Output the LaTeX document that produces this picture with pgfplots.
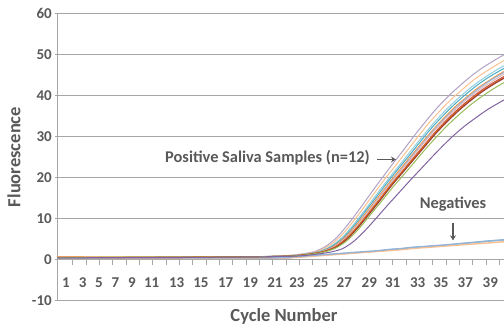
\documentclass[border=0pt]{standalone}
\usepackage{fontspec}
\setmainfont{Carlito}
\usepackage{pgfplots}
\pgfplotsset{compat=1.18}
\usetikzlibrary{arrows.meta}
\definecolor{txt}{HTML}{595959}
\definecolor{gridc}{HTML}{A6A6A6}
\definecolor{cLav}{HTML}{B3A2C7}
\definecolor{cPeach}{HTML}{FAC090}
\definecolor{cLBlue}{HTML}{93CDDD}
\definecolor{cBlue}{HTML}{4BACC6}
\definecolor{cOrange}{HTML}{F79646}
\definecolor{cSteel}{HTML}{95B3D7}
\definecolor{cSalmon}{HTML}{E6B9B8}
\definecolor{cRed}{HTML}{C0504D}
\definecolor{cDOrange}{HTML}{E46C0A}
\definecolor{cDRed}{HTML}{953735}
\definecolor{cGreen}{HTML}{9BBB59}
\definecolor{cPurple}{HTML}{8064A2}
\begin{document}
\begin{tikzpicture}
\useasboundingbox (-57.3pt,-26.3pt) rectangle (446.7pt,300.7pt);
\begin{axis}[
  at={(0pt,0pt)}, anchor=south west,
  scale only axis, width=446.7pt, height=287.4pt,
  xmin=0.22, xmax=40.25, ymin=-10, ymax=60,
  axis x line=middle, axis y line=left,
  hide obscured x ticks=false, hide obscured y ticks=false,
  axis line style={gridc, line width=0.8pt},
  x axis line style={-}, y axis line style={-},
  ytick={-10,0,10,20,30,40,50,60},
  yticklabels={-10,0,10,20,30,40,50,60},
  ymajorgrids, grid style={gridc, line width=0.8pt},
  xtick={1,2.496,3.957,5.418,6.914,8.679,10.919,13.097,15.310,17.514,19.728,21.699,23.849,25.937,28.177,30.274,32.514,34.602,36.779,39.020},
  xticklabels={1,3,5,7,9,11,13,15,17,19,21,23,25,27,29,31,33,35,37,39},
  minor xtick={1.594,2.789,...,39.9},
  tick align=outside,
  major tick length=2pt, minor tick length=5pt,
  major x tick style={draw=none},
  tick style={gridc, line width=0.8pt},
  ticklabel style={font=\fontsize{15}{15}\selectfont\bfseries, text=txt},
  xticklabel style={anchor=base, yshift=-26pt},
  xlabel={Cycle Number}, ylabel={Fluorescence},
  xlabel style={at={(axis description cs:0.5075,-0.0707)}, anchor=base, font=\fontsize{18.5}{18.5}\selectfont\bfseries, text=txt},
  ylabel style={at={(axis description cs:-0.0969,0.5)}, rotate=0, anchor=center, font=\fontsize{18.5}{18.5}\selectfont\bfseries, text=txt},
  every axis plot/.append style={line width=1.0pt, smooth, no markers},
]
% negatives
\addplot[cLBlue, line width=1.4pt] coordinates {(0.22,0.3)(10,0.35)(20,0.4)(21,0.5)(22,0.7)(23,0.9)(24,1.1)(25,1.3)(26,1.5)(27,1.7)(28,1.9)(29,2.1)(30,2.4)(31,2.6)(32,2.9)(33,3.1)(34,3.3)(35,3.5)(36,3.75)(37,4.0)(38,4.25)(39,4.5)(40,4.7)(41,4.9)};
\addplot[cPeach, line width=1.4pt] coordinates {(0.22,0.3)(10,0.3)(20,0.35)(21,0.45)(22,0.6)(23,0.8)(24,1.0)(25,1.2)(26,1.4)(27,1.6)(28,1.8)(29,2.0)(30,2.2)(31,2.4)(32,2.7)(33,2.9)(34,3.1)(35,3.3)(36,3.5)(37,3.7)(38,3.9)(39,4.1)(40,4.3)(41,4.5)};
\addplot[cSteel, line width=1.4pt] coordinates {(0.22,0.4)(10,0.4)(20,0.45)(21,0.6)(22,0.8)(23,1.0)(24,1.2)(25,1.4)(26,1.6)(27,1.8)(28,2.0)(29,2.2)(30,2.5)(31,2.7)(32,3.0)(33,3.2)(34,3.4)(35,3.6)(36,3.85)(37,4.1)(38,4.35)(39,4.6)(40,4.8)(41,5.0)};
% positives
\addplot[cLav] coordinates {(0.22,0.5)(5,0.5)(10,0.6)(15,0.6)(17.3,0.7)(18.3,0.75)(19.3,0.8)(20.3,0.9)(21.3,1.1)(22.3,1.45)(23.3,2.0)(24.3,3.3)(25.3,5.5)(26.3,8.7)(27.3,12.3)(28.3,16.1)(29.3,19.8)(30.3,23.4)(31.3,26.9)(32.3,30.5)(33.3,33.9)(34.3,37.1)(35.3,39.9)(36.3,42.4)(37.3,44.7)(38.3,46.7)(39.3,48.4)(40.3,50.0)};
\addplot[cPeach] coordinates {(0.22,0.6)(5,0.5)(10,0.6)(15,0.6)(17.5,0.7)(18.5,0.75)(19.5,0.8)(20.5,0.9)(21.5,1.1)(22.5,1.45)(23.5,2.0)(24.5,3.3)(25.5,5.4)(26.5,8.5)(27.5,12.0)(28.5,15.7)(29.5,19.4)(30.5,22.8)(31.5,26.3)(32.5,29.8)(33.5,33.2)(34.5,36.2)(35.5,39.0)(36.5,41.4)(37.5,43.7)(38.5,45.6)(39.5,47.3)(40.5,48.9)};
\addplot[cLBlue] coordinates {(0.22,0.4)(5,0.5)(10,0.6)(15,0.6)(17.7,0.7)(18.7,0.75)(19.7,0.8)(20.7,0.9)(21.7,1.1)(22.7,1.45)(23.7,2.0)(24.7,3.2)(25.7,5.3)(26.7,8.3)(27.7,11.8)(28.7,15.4)(29.7,19.0)(30.7,22.4)(31.7,25.8)(32.7,29.2)(33.7,32.5)(34.7,35.5)(35.7,38.2)(36.7,40.6)(37.7,42.8)(38.7,44.7)(39.7,46.4)(40.7,47.9)};
\addplot[cBlue] coordinates {(0.22,0.5)(5,0.5)(10,0.6)(15,0.6)(17.8,0.7)(18.8,0.75)(19.8,0.8)(20.8,0.9)(21.8,1.1)(22.8,1.45)(23.8,2.0)(24.8,3.2)(25.8,5.2)(26.8,8.2)(27.8,11.7)(28.8,15.2)(29.8,18.8)(30.8,22.2)(31.8,25.5)(32.8,28.9)(33.8,32.2)(34.8,35.1)(35.8,37.8)(36.8,40.2)(37.8,42.4)(38.8,44.3)(39.8,45.9)(40.8,47.4)};
\addplot[cOrange] coordinates {(0.22,0.7)(5,0.6)(10,0.6)(15,0.7)(17.9,0.7)(18.9,0.75)(19.9,0.8)(20.9,0.9)(21.9,1.1)(22.9,1.45)(23.9,2.0)(24.9,3.1)(25.9,5.2)(26.9,8.1)(27.9,11.5)(28.9,15.0)(29.9,18.5)(30.9,21.9)(31.9,25.2)(32.9,28.5)(33.9,31.7)(34.9,34.6)(35.9,37.3)(36.9,39.6)(37.9,41.8)(38.9,43.6)(39.9,45.3)(40.9,46.8)};
\addplot[cSteel] coordinates {(0.22,0.5)(5,0.5)(10,0.6)(15,0.6)(18,0.7)(19,0.75)(20,0.8)(21,0.9)(22,1.1)(23,1.45)(24,2.0)(25,3.1)(26,5.2)(27,8.1)(28,11.5)(29,15.0)(30,18.5)(31,21.8)(32,25.2)(33,28.5)(34,31.7)(35,34.6)(36,37.2)(37,39.6)(38,41.7)(39,43.6)(40,45.2)(41,46.7)};
\addplot[cSalmon] coordinates {(0.22,0.6)(5,0.5)(10,0.5)(15,0.6)(18,0.7)(19,0.75)(20,0.8)(21,0.9)(22,1.1)(23,1.45)(24,2.0)(25,3.1)(26,5.1)(27,8.0)(28,11.4)(29,14.9)(30,18.3)(31,21.6)(32,24.9)(33,28.2)(34,31.4)(35,34.3)(36,36.9)(37,39.2)(38,41.3)(39,43.1)(40,44.8)(41,46.2)};
\addplot[cRed] coordinates {(0.22,0.5)(5,0.5)(10,0.6)(15,0.6)(18.1,0.7)(19.1,0.75)(20.1,0.8)(21.1,0.9)(22.1,1.1)(23.1,1.45)(24.1,2.0)(25.1,3.1)(26.1,5.1)(27.1,7.9)(28.1,11.3)(29.1,14.7)(30.1,18.2)(31.1,21.4)(32.1,24.7)(33.1,27.9)(34.1,31.1)(35.1,34.0)(36.1,36.6)(37.1,38.9)(38.1,41.0)(39.1,42.8)(40.1,44.4)(41.1,45.8)};
\addplot[cDOrange] coordinates {(0.22,0.6)(5,0.6)(10,0.6)(15,0.7)(18.1,0.7)(19.1,0.75)(20.1,0.8)(21.1,0.9)(22.1,1.1)(23.1,1.45)(24.1,2.0)(25.1,3.0)(26.1,5.0)(27.1,7.9)(28.1,11.2)(29.1,14.6)(30.1,18.1)(31.1,21.3)(32.1,24.5)(33.1,27.7)(34.1,30.9)(35.1,33.7)(36.1,36.3)(37.1,38.6)(38.1,40.7)(39.1,42.5)(40.1,44.1)(41.1,45.5)};
\addplot[cDRed] coordinates {(0.22,0.5)(5,0.5)(10,0.5)(15,0.6)(18.2,0.7)(19.2,0.75)(20.2,0.8)(21.2,0.9)(22.2,1.1)(23.2,1.45)(24.2,2.0)(25.2,3.0)(26.2,5.0)(27.2,7.9)(28.2,11.2)(29.2,14.6)(30.2,18.1)(31.2,21.3)(32.2,24.5)(33.2,27.7)(34.2,30.9)(35.2,33.7)(36.2,36.3)(37.2,38.6)(38.2,40.7)(39.2,42.5)(40.2,44.1)(41.2,45.5)};
\addplot[cGreen] coordinates {(0.22,0.5)(5,0.6)(10,0.6)(15,0.6)(18.3,0.7)(19.3,0.75)(20.3,0.8)(21.3,0.9)(22.3,1.1)(23.3,1.45)(24.3,2.0)(25.3,3.0)(26.3,4.9)(27.3,7.7)(28.3,11.0)(29.3,14.3)(30.3,17.7)(31.3,20.8)(32.3,24.0)(33.3,27.2)(34.3,30.2)(35.3,33.0)(36.3,35.5)(37.3,37.8)(38.3,39.8)(39.3,41.6)(40.3,43.2)(41.3,44.5)};
\addplot[cPurple] coordinates {(0.22,0.4)(5,0.5)(10,0.5)(15,0.6)(18.8,0.7)(19.8,0.75)(20.8,0.8)(21.8,0.9)(22.8,1.1)(23.8,1.45)(24.8,1.9)(25.8,2.7)(26.8,4.5)(27.8,7.1)(28.8,10.1)(29.8,13.2)(30.8,16.2)(31.8,19.2)(32.8,22.1)(33.8,25.0)(34.8,27.8)(35.8,30.4)(36.8,32.7)(37.8,34.7)(38.8,36.6)(39.8,38.2)(40.8,39.7)(41.8,41.0)};
% annotations
\node[anchor=base east, font=\fontsize{16.4}{16.4}\selectfont\bfseries, text=txt, inner sep=0pt] at (axis cs:28.24,23.6) {Positive Saliva Samples (n=12)};
\draw[txt, line width=1.2pt, -{Stealth[length=5pt,width=6pt]}] (axis cs:28.87,24.4) -- (axis cs:30.57,24.4);
\node[anchor=base, font=\fontsize{16.4}{16.4}\selectfont\bfseries, text=txt, inner sep=0pt] at (axis cs:35.68,12.5) {Negatives};
\draw[txt, line width=1.2pt, -{Stealth[length=5pt,width=6pt]}] (axis cs:35.68,8.84) -- (axis cs:35.68,4.7);
\end{axis}
\end{tikzpicture}
\end{document}
